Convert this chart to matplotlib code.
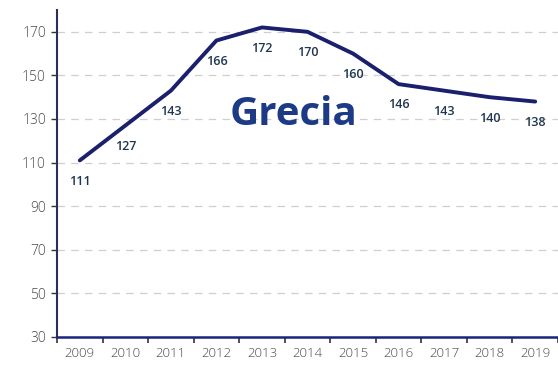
import matplotlib
matplotlib.use("Agg")
import matplotlib.pyplot as plt
import numpy as np

years = ["2009", "2010", "2011", "2012", "2013", "2014", "2015", "2016", "2017", "2018", "2019"]
values = [111, 127, 143, 166, 172, 170, 160, 146, 143, 140, 138]
yticks = [30, 50, 70, 90, 110, 130, 150, 170]
title = "Grecia"

navy = "#1a1f6e"
label_col = "#1f3550"

fig = plt.figure(figsize=(5.58, 3.66), dpi=100)
ax = fig.add_axes([57/558, 29/366, 501/558, 327/366])

x = np.arange(len(years))
ax.plot(x, values, color=navy, lw=2.8, solid_joinstyle="round", solid_capstyle="round", zorder=3)

for xi, v in zip(x, values):
    ax.annotate(str(v), (xi, v), xytext=(0, -15), textcoords="offset points",
                ha="center", va="center", fontsize=9, color=label_col,
                family="Open Sans", fontweight="semibold")

ax.set_xlim(-0.5, 10.42)
ax.set_ylim(30, 180)
ax.set_yticks(yticks)
ax.set_yticklabels([str(t) for t in yticks], family="Open Sans", fontsize=10, color="#4a4a4a",
                   fontweight="light")
ax.set_xticks(x)
ax.set_xticklabels(years, family="Open Sans", fontsize=9.5, color="#4a4a4a", fontweight="light")
ax.set_xticks(np.arange(-0.5, 11, 1), minor=True)
ax.tick_params(axis="x", which="major", length=0, pad=7)
ax.tick_params(axis="x", which="minor", length=4, width=1.2, color="#333333", direction="out")
ax.tick_params(axis="y", length=4, width=1, color="#333333", pad=4)

for t in yticks[1:]:
    ax.axhline(t, color="#cfcfcf", lw=0.9, ls=(0, (6, 5)), zorder=1)

for s in ["top", "right"]:
    ax.spines[s].set_visible(False)
ax.spines["left"].set_color("#2a2f5a")
ax.spines["left"].set_linewidth(1.5)
ax.spines["bottom"].set_color("#1a237e")
ax.spines["bottom"].set_linewidth(1.8)

ax.text(4.7, 132, title, ha="center", va="center", fontsize=29, fontweight="bold",
        family="Open Sans", color="#1d3a87")

fig.savefig("out.png", dpi=100)
